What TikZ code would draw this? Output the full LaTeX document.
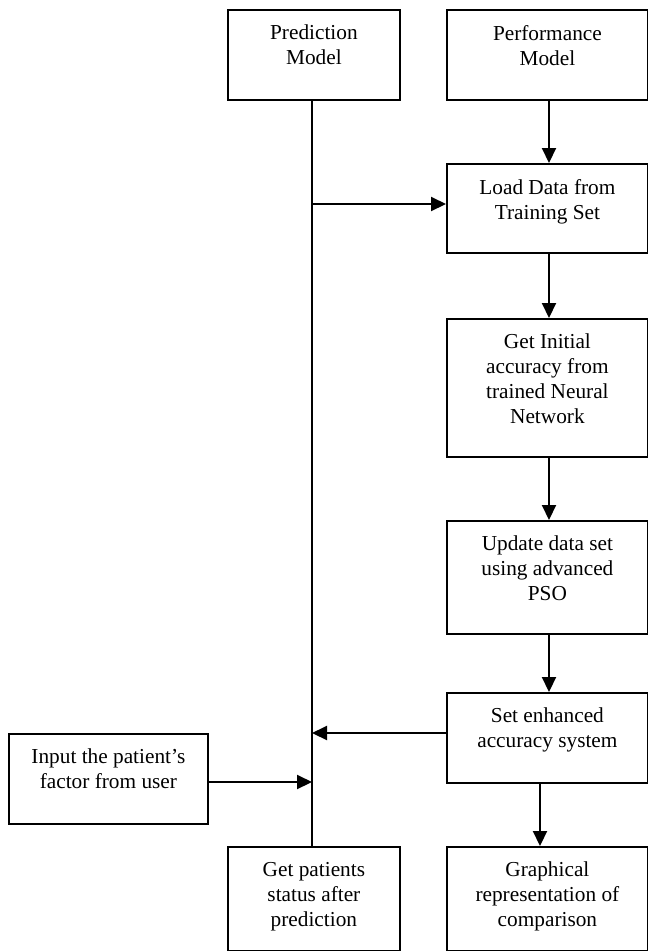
\documentclass[tikz,border=0pt]{standalone}
\usepackage{fontspec}
\setmainfont{Liberation Serif}
\usetikzlibrary{arrows.meta,calc}
\begin{document}
\begin{tikzpicture}[x=1pt,y=-1pt,
  box/.style={draw,line width=1.8pt,anchor=north west,inner sep=0pt},
  txt/.style={anchor=north,align=center,inner sep=0pt,font=\fontsize{21.3}{25}\selectfont},
  conn/.style={line width=2.1pt},
  arr/.style={line width=2.1pt,-{Triangle[length=15pt,width=14pt]}}]
\useasboundingbox (0,0) rectangle (648,951);
% boxes
\node[box,minimum width=172pt,minimum height=90pt] (pred) at (227,9) {};
\node[box,minimum width=201pt,minimum height=90pt] (perf) at (446,9) {};
\node[box,minimum width=201pt,minimum height=89pt] (load) at (446,163) {};
\node[box,minimum width=201pt,minimum height=138pt] (init) at (446,318) {};
\node[box,minimum width=201pt,minimum height=113pt] (upd) at (446,520) {};
\node[box,minimum width=201pt,minimum height=90pt] (set) at (446,692) {};
\node[box,minimum width=199pt,minimum height=90pt] (inp) at (8,733) {};
\node[box,minimum width=172pt,minimum height=104pt] (getp) at (227,846) {};
\node[box,minimum width=201pt,minimum height=104pt] (graph) at (446,846) {};
% texts
\node[txt] (tpred) at ([yshift=-16pt]pred.north) {Prediction\\Model};
\node[txt] (tperf) at ([yshift=-16pt]perf.north) {Performance\\Model};
\node[txt] (tload) at ([yshift=-16pt]load.north) {Load Data from\\Training Set};
\node[txt] (tinit) at ([yshift=-16pt]init.north) {Get Initial\\accuracy from\\trained Neural\\Network};
\node[txt] (tupd) at ([yshift=-16pt]upd.north) {Update data set\\using advanced\\PSO};
\node[txt] (tset) at ([yshift=-16pt]set.north) {Set enhanced\\accuracy system};
\node[txt] (tinp) at ([yshift=-16pt]inp.north) {Input the patient’s\\factor from user};
\node[txt] (tgetp) at ([yshift=-16pt]getp.north) {Get patients\\status after\\prediction};
\node[txt] (tgraph) at ([yshift=-16pt]graph.north) {Graphical\\representation of\\comparison};
% connectors
\coordinate (j1) at (312,204);
\coordinate (j2) at (312,733);
\coordinate (j3) at (312,782);
\draw[conn] (pred.south -| j1) -- (getp.north -| j1);
\draw[arr] (549,99) -- (549,163);
\draw[arr] (j1) -- (j1 -| load.west);
\draw[arr] (549,252) -- (549,318);
\draw[arr] (549,456) -- (549,520);
\draw[arr] (549,633) -- (549,692);
\draw[arr] (j2 -| set.west) -- (j2);
\draw[arr] (j3 -| inp.east) -- (j3);
\draw[arr] (540,782) -- (540,846);
\end{tikzpicture}
\end{document}
